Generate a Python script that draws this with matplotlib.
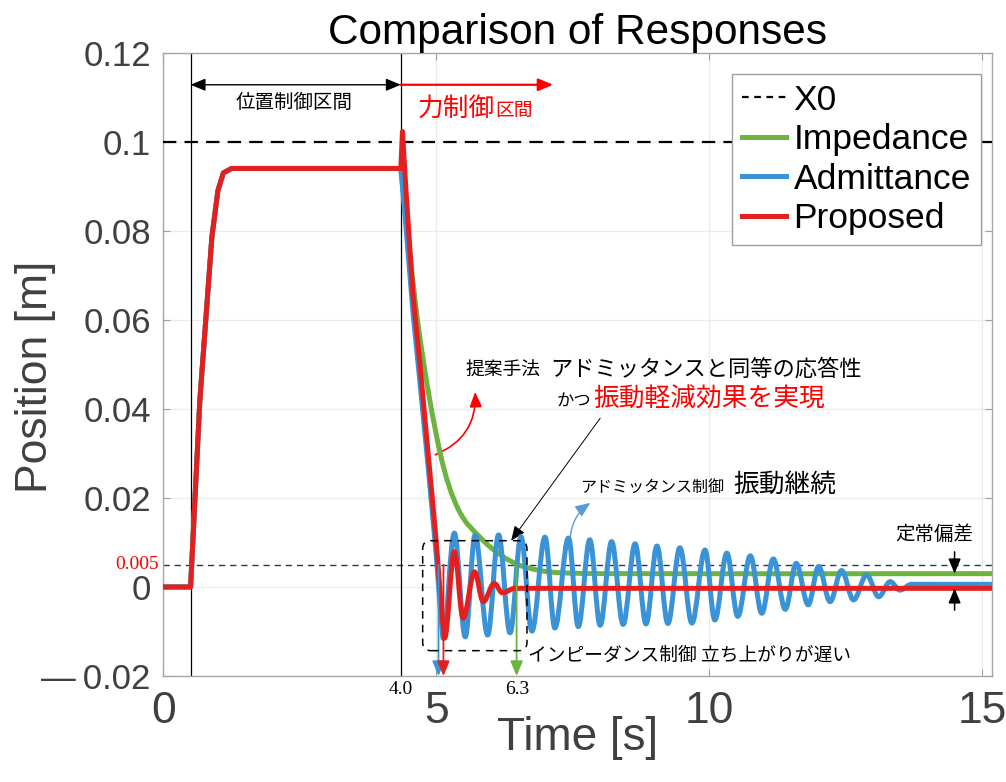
import matplotlib
matplotlib.use('Agg')
import matplotlib.pyplot as plt
from matplotlib.path import Path
from matplotlib.patches import PathPatch, FancyBboxPatch
from matplotlib.lines import Line2D

# position-control phase (same for all three controllers)
t_pos = [0.0, 0.50, 0.67, 0.89, 1.00, 1.10, 1.25, 4.35]
x_pos = [0.0, 0.0, 0.042, 0.0786, 0.089, 0.093, 0.094, 0.094]

# impedance control (slow decay)
t_imp = [4.35, 4.68, 5.07, 5.40, 5.83, 6.20, 6.50, 6.75, 6.99, 7.27, 8.00, 15.17]
x_imp = [0.094, 0.0577, 0.0301, 0.0175, 0.0108, 0.0070, 0.0050, 0.0041, 0.0035, 0.0032, 0.0030, 0.0030]

# admittance control: drop, then extrema of the oscillation
t_adm_drop = [4.35, 4.45, 4.57, 4.70, 4.85, 5.00, 5.08]
x_adm_drop = [0.094, 0.080, 0.062, 0.046, 0.027, 0.007, -0.006]
t_adm_ext = [5.12, 5.33, 5.53, 5.71, 5.94, 6.14, 6.35, 6.55, 6.75, 6.99, 7.17, 7.42, 7.60, 7.81,
             8.00, 8.21, 8.42, 8.64, 8.84, 9.04, 9.24, 9.46, 9.68, 9.92, 10.10, 10.32, 10.52, 10.75,
             10.96, 11.17, 11.39, 11.59, 11.81, 12.00, 12.21, 12.42, 12.64, 12.88, 13.10, 13.31, 13.49,
             13.70, 15.17]
x_adm_ext = [-0.0115, 0.0121, -0.0112, 0.0117, -0.0108, 0.0117, -0.0103, 0.0113, -0.0099, 0.0112,
             -0.0092, 0.0110, -0.0089, 0.0106, -0.0086, 0.0102, -0.0084, 0.0097, -0.0083, 0.0092,
             -0.0082, 0.0088, -0.0081, 0.0083, -0.0074, 0.0076, -0.0066, 0.0070, -0.0059, 0.0063,
             -0.0050, 0.0053, -0.0040, 0.0046, -0.0033, 0.0037, -0.0029, 0.0027, -0.0022, 0.0012,
             -0.0007, 0.0006, 0.0006]

# proposed method
t_prop_drop = [4.35, 4.38, 4.45, 4.57, 4.70, 4.85, 5.00, 5.10]
x_prop_drop = [0.094, 0.1023, 0.088, 0.066, 0.050, 0.030, 0.010, -0.006]
t_prop_ext = [5.15, 5.33, 5.49, 5.70, 5.86, 6.06, 6.21, 6.44, 15.17]
x_prop_ext = [-0.0115, 0.0079, -0.0070, 0.0034, -0.0033, 0.0008, -0.0013, -0.0003, -0.0003]

x0 = 0.1
eps = 0.005
t_switch = [0.50, 4.35]

c_imp = '#6DB33F'
c_adm = '#3A93D6'
c_prop = '#E3201F'
jp = ['Noto Sans CJK JP', 'DejaVu Sans']
en = 'Liberation Sans'
lw_main = 3.6


def line_part(t, x):
    verts = list(zip(t, x))
    codes = [Path.MOVETO] + [Path.LINETO] * (len(verts) - 1)
    return verts, codes


def extrema_part(t, x):
    # smooth curve between successive peaks and troughs (flat tangent at each)
    verts, codes = [(t[0], x[0])], [Path.LINETO]
    for i in range(len(t) - 1):
        dt = t[i + 1] - t[i]
        verts += [(t[i] + 0.36 * dt, x[i]), (t[i + 1] - 0.36 * dt, x[i + 1]), (t[i + 1], x[i + 1])]
        codes += [Path.CURVE4] * 3
    return verts, codes


def spline_part(t, x):
    # smooth curve through read points, slopes from neighbours
    n = len(t)
    m = []
    for i in range(n):
        a, b = max(i - 1, 0), min(i + 1, n - 1)
        m.append((x[b] - x[a]) / (t[b] - t[a]))
    verts, codes = [(t[0], x[0])], [Path.LINETO]
    for i in range(n - 1):
        h = (t[i + 1] - t[i]) / 3
        verts += [(t[i] + h, x[i] + h * m[i]), (t[i + 1] - h, x[i + 1] - h * m[i + 1]), (t[i + 1], x[i + 1])]
        codes += [Path.CURVE4] * 3
    return verts, codes


def response(parts):
    verts, codes = [], []
    for v, c in parts:
        verts += v
        codes += c
    return Path(verts, codes)


fig = plt.figure(figsize=(10.06, 7.82), dpi=100)
ax = fig.add_axes([0.1623, 0.1355, 0.8235, 0.7971])

ax.set_xlim(0, 15.17)
ax.set_ylim(-0.02, 0.12)
ax.grid(True, color='#EBEBEB', lw=0.9)
ax.set_axisbelow(True)

ax.axhline(eps, color='#1F3864', lw=1.0, ls=(0, (4.5, 3.5)), zorder=2)
for ts in t_switch:
    ax.axvline(ts, color='black', lw=0.9, zorder=2)
ax.axhline(x0, color='black', lw=1.6, ls=(0, (6, 3.7)), zorder=3)

paths = [
    (response([line_part(t_pos, x_pos), spline_part(t_imp, x_imp)]), c_imp, 4),
    (response([line_part(t_pos + t_adm_drop[1:], x_pos + x_adm_drop[1:]), extrema_part(t_adm_ext, x_adm_ext)]), c_adm, 5),
    (response([line_part(t_pos + t_prop_drop[1:], x_pos + x_prop_drop[1:]), extrema_part(t_prop_ext, x_prop_ext)]), c_prop, 6),
]
for p, col, z in paths:
    ax.add_patch(PathPatch(p, fill=False, edgecolor=col, lw=lw_main, joinstyle='round', capstyle='round', zorder=z))

ax.set_xticks([0, 5, 10, 15])
ax.set_yticks([-0.02, 0, 0.02, 0.04, 0.06, 0.08, 0.1, 0.12])
ax.set_yticklabels(['\u2014\u20090.02', '0', '0.02', '0.04', '0.06', '0.08', '0.1', '0.12'])
ax.tick_params(direction='in', length=5, color='#A0A0A0', labelcolor='#404040', top=True, right=True)
ax.tick_params(axis='y', labelsize=25, pad=9)
ax.tick_params(axis='x', labelsize=32, pad=11)
for lab in ax.get_xticklabels() + ax.get_yticklabels():
    lab.set_family(en)
for s in ax.spines.values():
    s.set_color('#A6A6A6')
    s.set_linewidth(1.0)

ax.set_title('Comparison of Responses', family=en, fontsize=30.5, pad=6)
ax.set_xlabel('Time [s]', family=en, fontsize=33, color='#404040')
ax.set_ylabel('Position [m]', family=en, fontsize=32, color='#404040')
ax.xaxis.set_label_coords(0.5, -0.064)
ax.yaxis.set_label_coords(-0.13, 0.48)

handles = [Line2D([], [], color='black', lw=1.6, ls=(0, (3, 2.5))),
           Line2D([], [], color=c_imp, lw=lw_main),
           Line2D([], [], color=c_adm, lw=lw_main),
           Line2D([], [], color=c_prop, lw=lw_main)]
leg = ax.legend(handles, ['X0', 'Impedance', 'Admittance', 'Proposed'], loc='upper right',
                bbox_to_anchor=(0.987, 0.966), borderaxespad=0, fancybox=False, framealpha=1,
                edgecolor='#A0A0A0', handlelength=1.25, handletextpad=0.2, labelspacing=0.18,
                borderpad=0.28, prop={'family': en, 'size': 25.5})
leg.get_frame().set_linewidth(1.0)
leg.set_zorder(10)

arrow = '-|>,head_length=0.6,head_width=0.25'

# interval arrows
ax.annotate('', xy=(t_switch[0], 0.1128), xytext=(t_switch[1], 0.1128),
            arrowprops=dict(arrowstyle='<|-|>,head_length=0.6,head_width=0.25', color='black', lw=1.0,
                            shrinkA=0, shrinkB=0, mutation_scale=15))
ax.annotate('', xy=(7.14, 0.1128), xytext=(t_switch[1], 0.1128),
            arrowprops=dict(arrowstyle=arrow, color='red', lw=1.6, shrinkA=0, shrinkB=0, mutation_scale=15))
ax.text(2.40, 0.1089, '位置制御区間', family=jp, fontsize=14, ha='center', va='center')
ax.text(4.65, 0.1058, '力制御', family=jp, fontsize=18.5, color='red', ha='left', va='baseline')
ax.text(6.07, 0.1058, '区間', family=jp, fontsize=13.5, color='red', ha='left', va='baseline')

# labels under / left of the axes
ax.text(-0.08, eps, '0.005', family='Liberation Serif', fontsize=14, color='red', ha='right', va='center',
        clip_on=False)
ax.text(t_switch[1], -0.0231, '4.0', family='Liberation Serif', fontsize=14, ha='center', va='center',
        clip_on=False)
ax.text(6.48, -0.0231, '6.3', family='Liberation Serif', fontsize=14, ha='center', va='center',
        clip_on=False)

# settling markers
for tt, cc in [(5.04, c_adm), (5.13, c_prop), (6.47, c_imp)]:
    ax.annotate('', xy=(tt, -0.02), xytext=(tt, eps),
                arrowprops=dict(arrowstyle=arrow, color=cc, lw=1.3, shrinkA=0, shrinkB=0, mutation_scale=15),
                zorder=7)

# dashed rounded box
ax.add_patch(FancyBboxPatch((4.75, -0.0143), 6.66 - 4.75, 0.0104 + 0.0143,
                            boxstyle='round,pad=0,rounding_size=0.15', mutation_aspect=0.01226,
                            fill=False, edgecolor='black', lw=1.1, ls=(0, (5, 4)), zorder=7))
ax.text(6.68, -0.0153, 'インピーダンス制御 立ち上がりが遅い', family=jp, fontsize=13.5, ha='left', va='center')

# proposed comments
ax.text(5.53, 0.0474, '提案手法', family=jp, fontsize=13.5, ha='left', va='baseline')
ax.text(7.09, 0.0474, 'アドミッタンスと同等の応答性', family=jp, fontsize=16, ha='left', va='baseline')
ax.text(7.21, 0.0404, 'かつ', family=jp, fontsize=12.5, ha='left', va='baseline')
ax.text(7.87, 0.0404, '振動軽減効果を実現', family=jp, fontsize=18.5, color='red', ha='left', va='baseline')
ax.annotate('', xy=(5.71, 0.0438), xytext=(4.98, 0.0297),
            arrowprops=dict(arrowstyle=arrow, color='red', lw=1.2, shrinkA=0, shrinkB=0, mutation_scale=15,
                            connectionstyle='arc3,rad=0.35'))
ax.annotate('', xy=(6.37, 0.0104), xytext=(8.0, 0.0379),
            arrowprops=dict(arrowstyle=arrow, color='black', lw=0.7, shrinkA=0, shrinkB=0, mutation_scale=15))

# admittance comment
ax.text(7.63, 0.0213, 'アドミッタンス制御', family=jp, fontsize=11.5, ha='left', va='baseline')
ax.text(10.43, 0.0213, '振動継続', family=jp, fontsize=18.5, ha='left', va='baseline')
ax.annotate('', xy=(7.82, 0.0189), xytext=(7.45, 0.0103),
            arrowprops=dict(arrowstyle=arrow, color='#5B9BD5', lw=1.0, shrinkA=0, shrinkB=0, mutation_scale=15,
                            connectionstyle='arc3,rad=-0.25'))

# steady state error
ax.text(13.40, 0.0117, '定常偏差', family=jp, fontsize=14, ha='left', va='center')
ax.annotate('', xy=(14.49, 0.0030), xytext=(14.49, 0.0079),
            arrowprops=dict(arrowstyle=arrow, color='black', lw=1.1, shrinkA=0, shrinkB=0, mutation_scale=15),
            zorder=8)
ax.annotate('', xy=(14.49, -0.0003), xytext=(14.49, -0.0052),
            arrowprops=dict(arrowstyle=arrow, color='black', lw=1.1, shrinkA=0, shrinkB=0, mutation_scale=15),
            zorder=8)

fig.savefig('out.png', dpi=100, facecolor='white')
